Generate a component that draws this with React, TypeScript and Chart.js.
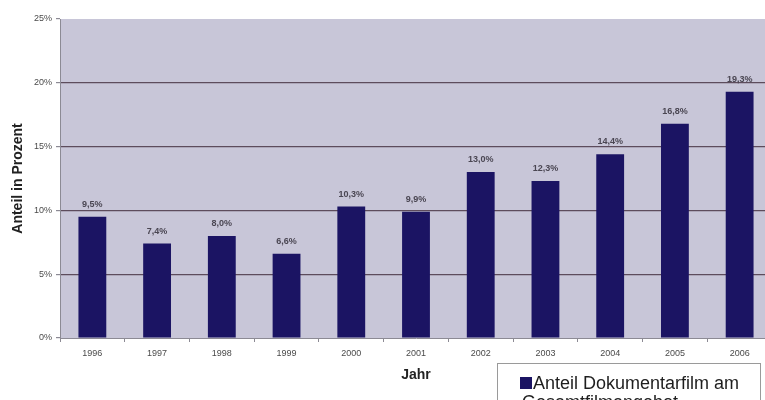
import React, { useEffect, useRef } from "react";
import { Chart, registerables } from "chart.js";

Chart.register(...registerables);

const years = ["1996", "1997", "1998", "1999", "2000", "2001", "2002", "2003", "2004", "2005", "2006"];
const shares = [9.5, 7.4, 8.0, 6.6, 10.3, 9.9, 13.0, 12.3, 14.4, 16.8, 19.3];
const seriesLabel = "Anteil Dokumentarfilm am Gesamtfilmangebot";
const legendLines = ["Anteil Dokumentarfilm am", "Gesamtfilmangebot"];
const yTicks = [0, 5, 10, 15, 20, 25];

const FONT = "'Liberation Sans', Arial, sans-serif";
const BAR = "#1b1463";
const PLOT_BG = "#c8c6d8";
const GRID = "#5d4c5c";

const fmt = (v: number) => v.toFixed(1).replace(".", ",") + "%";

const plotBg = {
  id: "plotBg",
  beforeDraw(chart: any) {
    const { ctx, chartArea } = chart;
    ctx.save();
    ctx.fillStyle = PLOT_BG;
    ctx.fillRect(chartArea.left, chartArea.top, chartArea.right - chartArea.left, chartArea.bottom - chartArea.top);
    ctx.restore();
  },
};

const valueLabels = {
  id: "valueLabels",
  afterDatasetsDraw(chart: any) {
    const { ctx } = chart;
    const meta = chart.getDatasetMeta(0);
    const data = chart.data.datasets[0].data as number[];
    ctx.save();
    ctx.font = `bold 9px ${FONT}`;
    ctx.fillStyle = "#4a4652";
    ctx.textAlign = "center";
    ctx.textBaseline = "bottom";
    meta.data.forEach((bar: any, i: number) => {
      ctx.fillText(fmt(data[i]), bar.x, bar.y - 8);
    });
    ctx.restore();
  },
};

const boxLegend = {
  id: "boxLegend",
  afterDraw(chart: any) {
    const { ctx } = chart;
    ctx.save();
    ctx.fillStyle = "#ffffff";
    ctx.fillRect(497, 363, 263, 60);
    ctx.strokeStyle = "#9a9a9a";
    ctx.lineWidth = 1;
    ctx.strokeRect(497.5, 363.5, 263, 60);
    ctx.fillStyle = chart.data.datasets[0].backgroundColor;
    ctx.fillRect(520, 377, 12, 12);
    ctx.fillStyle = "#1e1e1e";
    ctx.font = `18px ${FONT}`;
    ctx.textAlign = "left";
    ctx.textBaseline = "alphabetic";
    ctx.fillText(legendLines[0], 533, 389);
    ctx.fillText(legendLines[1], 522, 408);
    ctx.restore();
  },
};

export default function App() {
  const ref = useRef<HTMLCanvasElement>(null);

  useEffect(() => {
    document.body.style.overflow = "hidden";
    const canvas = ref.current!;
    const chart = new Chart(canvas, {
      type: "bar",
      data: {
        labels: years,
        datasets: [
          {
            label: seriesLabel,
            data: shares,
            backgroundColor: BAR,
            borderWidth: 0,
            categoryPercentage: 1,
            barPercentage: 0.43,
          },
        ],
      },
      options: {
        animation: false,
        responsive: false,
        devicePixelRatio: 1,
        layout: { padding: { top: 19, right: 28, left: 0, bottom: 0 } },
        plugins: {
          legend: { display: false },
          tooltip: { enabled: false },
        },
        scales: {
          x: {
            afterFit: (s: any) => {
              s.height = 62;
            },
            border: { display: true, color: "#8c8a94", width: 1 },
            grid: {
              offset: true,
              drawOnChartArea: false,
              drawTicks: true,
              tickLength: 4,
              tickColor: "#8c8a94",
            },
            ticks: {
              color: "#4a4a4a",
              font: { family: FONT, size: 9 },
              padding: 6,
              maxRotation: 0,
            },
            title: {
              display: true,
              text: "Jahr",
              color: "#222222",
              font: { family: FONT, size: 14, weight: "bold" },
              padding: { top: 0, bottom: 16 },
            },
          },
          y: {
            min: 0,
            max: 25,
            afterFit: (s: any) => {
              s.width = 60;
            },
            afterBuildTicks: (s: any) => {
              s.ticks = yTicks.map((v) => ({ value: v }));
            },
            border: { display: true, color: "#8c8a94", width: 1 },
            grid: {
              drawTicks: true,
              tickLength: 4,
              tickColor: "#8c8a94",
              lineWidth: 1.2,
              color: (c: any) =>
                c.tick && (c.tick.value === 0 || c.tick.value === 25) ? "rgba(0,0,0,0)" : GRID,
            },
            ticks: {
              color: "#4a4a4a",
              font: { family: FONT, size: 9 },
              padding: 4,
              callback: (v: any) => `${v}%`,
            },
            title: {
              display: true,
              text: "Anteil in Prozent",
              color: "#222222",
              font: { family: FONT, size: 14, weight: "bold" },
              padding: { top: 10, bottom: 0 },
            },
          },
        },
      },
      plugins: [plotBg, valueLabels, boxLegend],
    });
    return () => chart.destroy();
  }, []);

  return (
    <div style={{ position: "fixed", left: 0, top: 0, width: 800, height: 400, background: "#ffffff" }}>
      <canvas ref={ref} width={800} height={400} style={{ width: 800, height: 400, display: "block" }} />
    </div>
  );
}
